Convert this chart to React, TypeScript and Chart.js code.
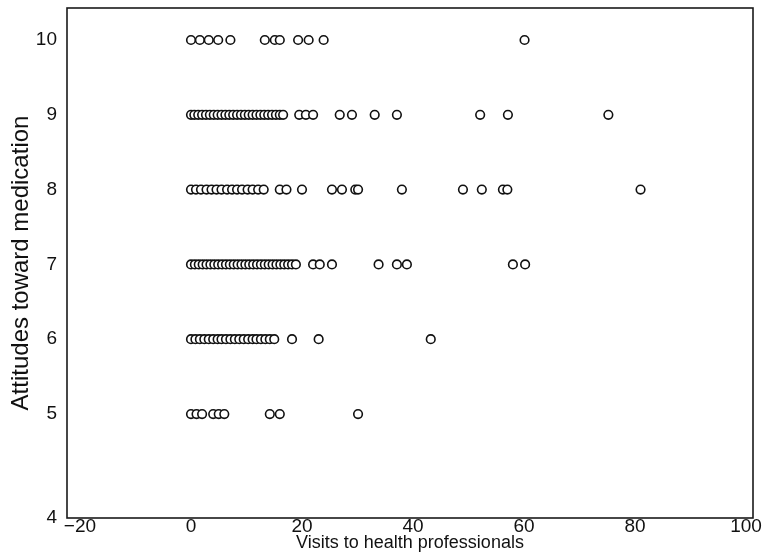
import React, { useEffect, useRef } from "react";
import { Chart, registerables } from "chart.js";

Chart.register(...registerables);

// Visits to health professionals for each attitude level
const attitude10 = [0, 1.6, 3.2, 4.9, 7.1, 13.3, 15.1, 16.0, 19.3, 21.2, 23.9, 60.1];
const attitude9 = [
  0, 0.6, 1.3, 2.0, 2.7, 3.4, 4.1, 4.8, 5.5, 6.2, 6.9, 7.6, 8.3, 9.0, 9.7, 10.4,
  11.1, 11.8, 12.5, 13.2, 13.9, 14.6, 15.3, 16.0, 16.6,
  19.5, 20.7, 22.0, 26.8, 29.0, 33.1, 37.1, 52.1, 57.1, 75.2,
];
const attitude8 = [
  0, 0.9, 1.8, 2.8, 3.7, 4.6, 5.5, 6.5, 7.4, 8.3, 9.2, 10.2, 11.1, 12.1, 13.1,
  16.0, 17.2, 20.0, 25.4, 27.2, 29.6, 30.1, 38.0, 49.0, 52.4, 56.2, 57.0, 81.0,
];
const attitude7 = [
  0, 0.7, 1.4, 2.1, 2.8, 3.5, 4.2, 4.9, 5.6, 6.3, 7.0, 7.7, 8.4, 9.1, 9.8, 10.5,
  11.2, 11.9, 12.6, 13.3, 14.0, 14.7, 15.4, 16.1, 16.8, 17.5, 18.2, 18.9,
  22.0, 23.2, 25.4, 33.8, 37.1, 38.9, 58.0, 60.2,
];
const attitude6 = [
  0, 0.8, 1.6, 2.4, 3.2, 4.0, 4.8, 5.5, 6.3, 7.1, 7.9, 8.7, 9.5, 10.3, 11.1,
  11.8, 12.6, 13.4, 14.2, 15.0, 18.2, 23.0, 43.2,
];
const attitude5 = [0, 1, 2, 4, 5, 6, 14.2, 16.0, 30.1];

const attitudeLevels = [10, 9, 8, 7, 6, 5];
const visitsByLevel = [attitude10, attitude9, attitude8, attitude7, attitude6, attitude5];

const xTickValues = [-20, 0, 20, 40, 60, 80, 100];
const xTickLabels = ["\u221220", "0", "20", "40", "60", "80", "100"];
const yTickValues = [5, 6, 7, 8, 9, 10];
const yTickLabels = ["5", "6", "7", "8", "9", "10"];
const yBottomLabel = "4";

const X_MIN = -22.34;
const X_MAX = 101.26;
const Y_MIN = 3.61;
const Y_MAX = 10.428;

const FONT = "'Liberation Sans', Arial, Helvetica, sans-serif";
const FONT_SIZE = 19;

export default function App() {
  const ref = useRef<HTMLCanvasElement | null>(null);

  useEffect(() => {
    const canvas = ref.current;
    if (!canvas) return;
    const points: { x: number; y: number }[] = [];
    visitsByLevel.forEach((arr, i) => {
      arr.forEach((v) => points.push({ x: v, y: attitudeLevels[i] }));
    });

    const framePlugin = {
      id: "frame",
      afterDraw(chart: any) {
        const { ctx, chartArea } = chart;
        ctx.save();
        ctx.strokeStyle = "#1a1a1a";
        ctx.lineWidth = 1.6;
        ctx.strokeRect(
          chartArea.left,
          chartArea.top,
          chartArea.right - chartArea.left,
          chartArea.bottom - chartArea.top
        );
        ctx.restore();
      },
    };

    const zeroPad = (scale: any) => {
      scale.paddingTop = 0;
      scale.paddingBottom = 0;
      scale.paddingLeft = 0;
      scale.paddingRight = 0;
    };

    const chart = new Chart(canvas, {
      type: "scatter",
      data: {
        datasets: [
          {
            data: points,
            pointStyle: "circle",
            pointRadius: 4.3,
            pointBorderWidth: 1.6,
            pointBorderColor: "#111",
            pointBackgroundColor: "#fff",
          },
        ],
      },
      options: {
        animation: false,
        responsive: false,
        maintainAspectRatio: false,
        layout: { padding: { top: 8, right: 10, left: 0, bottom: 0 } },
        plugins: {
          legend: { display: false },
          tooltip: { enabled: false },
        },
        scales: {
          x: {
            type: "linear",
            min: X_MIN,
            max: X_MAX,
            grid: { display: false, drawTicks: false },
            border: { display: false },
            afterBuildTicks: (scale: any) => {
              scale.ticks = xTickValues.map((v) => ({ value: v }));
            },
            afterFit: (scale: any) => {
              scale.height = 34;
              zeroPad(scale);
            },
            ticks: {
              color: "#111",
              padding: -3,
              font: { family: FONT, size: FONT_SIZE },
              maxRotation: 0,
              autoSkip: false,
              callback: (v: any) => {
                const i = xTickValues.indexOf(Number(v));
                return i >= 0 ? xTickLabels[i] : "";
              },
            },
            title: {
              display: true,
              text: "Visits to health professionals",
              color: "#111",
              font: { family: FONT, size: 18 },
              padding: { top: 0, bottom: -2 },
            },
          },
          y: {
            type: "linear",
            min: Y_MIN,
            max: Y_MAX,
            grid: { display: false, drawTicks: false },
            border: { display: false },
            afterBuildTicks: (scale: any) => {
              scale.ticks = [Y_MIN, ...yTickValues].map((v) => ({ value: v }));
            },
            afterFit: (scale: any) => {
              scale.width = 67;
              zeroPad(scale);
            },
            ticks: {
              color: "#111",
              padding: 10,
              font: { family: FONT, size: FONT_SIZE },
              autoSkip: false,
              callback: (v: any) => {
                if (Number(v) === Y_MIN) return yBottomLabel;
                const i = yTickValues.indexOf(Number(v));
                return i >= 0 ? yTickLabels[i] : "";
              },
            },
            title: {
              display: true,
              text: "Attitudes toward medication",
              color: "#111",
              font: { family: FONT, size: 24 },
              padding: { top: 7, bottom: 0 },
            },
          },
        },
      },
      plugins: [framePlugin],
    });
    return () => chart.destroy();
  }, []);

  return (
    <div style={{ position: "fixed", left: 0, top: 0, width: 763, height: 552, background: "#fff" }}>
      <canvas ref={ref} width={763} height={552} style={{ display: "block" }} />
    </div>
  );
}
